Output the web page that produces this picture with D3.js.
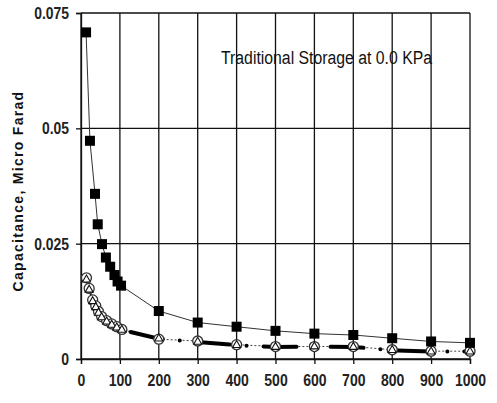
<!DOCTYPE html>
<html><head><meta charset="utf-8">
<script src="https://cdn.jsdelivr.net/npm/d3@7"></script>
<style>body{margin:0;background:#fff;} svg{display:block;}</style>
</head><body>
<script>
const xSquares = [13,23,36,43,54,64,75,86,94,103,200,300,400,500,600,700,800,900,1000];
const squareValues = [0.0708,0.0473,0.0358,0.0292,0.0249,0.0220,0.0200,0.0182,0.0168,0.0159,0.0104,0.0079,0.0070,0.0061,0.0055,0.0052,0.0045,0.0038,0.0035];
const xLower = [14,21,30,38,45,53,66,79,92,105,200,300,400,500,600,700,800,900,1000];
const circleValues = [0.0176,0.0153,0.0128,0.0115,0.0103,0.0092,0.0083,0.0076,0.0070,0.0064,0.0043,0.0039,0.0031,0.0027,0.0027,0.0027,0.0020,0.0017,0.0017];
const triangleValues = [0.0172,0.0150,0.0125,0.0112,0.0100,0.0090,0.0081,0.0074,0.0068,0.0063,0.0044,0.0037,0.0030,0.0026,0.0027,0.0026,0.0019,0.0016,0.0016];
const xTicks = [0,100,200,300,400,500,600,700,800,900,1000];
const yTicks = [0,0.025,0.05,0.075];
const yTickLabels = ["0","0.025","0.05","0.075"];
const yTitle = "Capacitance, Micro Farad";
const note = "Traditional Storage at 0.0 KPa";

const W = 497, H = 403;
const m = {left:81, right:27, top:13, bottom:44};
const svg = d3.select("body").append("svg").attr("width",W).attr("height",H);
const x = d3.scaleLinear().domain([0,1000]).range([m.left, W-m.right]);
const y = d3.scaleLinear().domain([0,0.075]).range([H-m.bottom, m.top]);
const font = "'Liberation Sans Narrow','Arial Narrow','Liberation Sans',Arial,sans-serif";
const labLen = s => s.replace(/\./g,"").length*7.8 + (s.split(".").length-1)*3.6;

// gridlines
const g = svg.append("g");
g.selectAll(".vg").data(xTicks).join("line")
  .attr("x1",d=>x(d)).attr("x2",d=>x(d)).attr("y1",y(0)).attr("y2",y(0.075))
  .attr("stroke","#111").attr("stroke-width",1.3);
g.selectAll(".hg").data(yTicks).join("line")
  .attr("y1",d=>y(d)).attr("y2",d=>y(d)).attr("x1",x(0)).attr("x2",x(1000))
  .attr("stroke","#111").attr("stroke-width",1.3);

// axes
const xAxis = svg.append("g").attr("transform",`translate(0,${y(0)})`)
  .call(d3.axisBottom(x).tickValues(xTicks).tickSize(5).tickPadding(10).tickFormat(d3.format("d")));
const yAxis = svg.append("g").attr("transform",`translate(${x(0)},0)`)
  .call(d3.axisLeft(y).tickValues(yTicks).tickSize(5).tickPadding(7).tickFormat((d,i)=>yTickLabels[i]));
[xAxis,yAxis].forEach(a=>{
  a.select(".domain").attr("stroke","#111").attr("stroke-width",1.3);
  a.selectAll(".tick line").attr("stroke","#111").attr("stroke-width",1.3);
  a.selectAll("text").attr("font-family",font).attr("font-weight","bold")
    .attr("font-size",17).attr("fill","#222")
    .attr("textLength",function(){return labLen(this.textContent);})
    .attr("lengthAdjust","spacingAndGlyphs");
});

// y title
svg.append("text").attr("transform",`translate(23,191) rotate(-90)`)
  .attr("text-anchor","middle").attr("font-family","'Liberation Sans',Arial,sans-serif")
  .attr("font-weight","bold").attr("font-size",14).attr("letter-spacing",1.3)
  .attr("fill","#111").text(yTitle);

// note
svg.append("text").attr("x",221).attr("y",64)
  .attr("font-family",font).attr("font-size",18).attr("fill","#111")
  .attr("textLength",211).attr("lengthAdjust","spacingAndGlyphs").text(note);

// lines
const sq = xSquares.map((d,i)=>[d,squareValues[i]]);
const ci = xLower.map((d,i)=>[d,circleValues[i]]);
const tr = xLower.map((d,i)=>[d,triangleValues[i]]);
const line = d3.line().x(d=>x(d[0])).y(d=>y(d[1]));

svg.append("path").datum(ci).attr("d",line).attr("fill","none")
  .attr("stroke","#444").attr("stroke-width",1).attr("stroke-dasharray","2,2");
svg.append("path").datum(tr.slice(0,10)).attr("d",line).attr("fill","none")
  .attr("stroke","#111").attr("stroke-width",1.5);
svg.append("path").datum(tr.slice(9)).attr("d",line).attr("fill","none")
  .attr("stroke","#000").attr("stroke-width",4).attr("stroke-linecap","round")
  .attr("stroke-dasharray","33,17,0,17").attr("stroke-dashoffset",-9);
svg.append("path").datum(sq).attr("d",line).attr("fill","none")
  .attr("stroke","#333").attr("stroke-width",1);

// circles
svg.selectAll(".c").data(ci).join("circle")
  .attr("cx",d=>x(d[0])).attr("cy",d=>y(d[1])).attr("r",5)
  .attr("fill","#fff").attr("stroke","#333").attr("stroke-width",1.3);
// triangles
const tri = d3.symbol().type(d3.symbolTriangle).size(28);
svg.selectAll(".t").data(tr).join("path")
  .attr("d",tri).attr("transform",d=>`translate(${x(d[0])},${y(d[1])})`)
  .attr("fill","#fff").attr("stroke","#111").attr("stroke-width",1.1);
// squares
svg.selectAll(".s").data(sq).join("rect")
  .attr("x",d=>x(d[0])-5).attr("y",d=>y(d[1])-5).attr("width",10).attr("height",10)
  .attr("fill","#000");
</script>
</body></html>
